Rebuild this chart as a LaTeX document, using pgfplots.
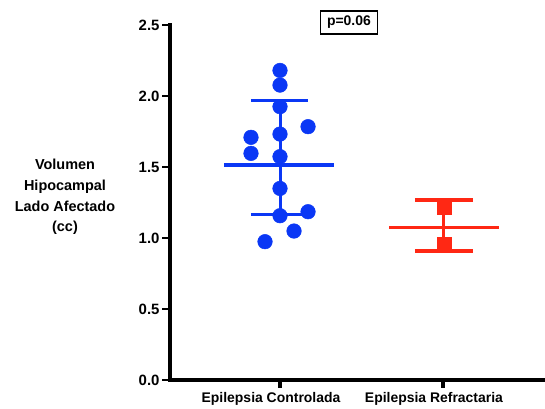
\documentclass[border=0pt]{standalone}
\usepackage{fontspec}
\setmainfont{Liberation Sans}
\usepackage{pgfplots}
\pgfplotsset{compat=1.18}
\definecolor{pblue}{RGB}{10,55,245}
\definecolor{pred}{RGB}{255,40,20}
\begin{document}
\begin{tikzpicture}
\useasboundingbox (-170bp,-29bp) rectangle (375bp,380bp);
\begin{axis}[
  at={(0,0)}, anchor=south west,
  scale only axis, width=375bp, height=355bp,
  xmin=0.325, xmax=2.626, ymin=0, ymax=2.5,
  axis x line=bottom, axis y line=left,
  axis line style={line width=4bp,-, line cap=rect},
  tick align=outside, major tick length=8bp,
  xtick={1,2}, xticklabels={Epilepsia Controlada, Epilepsia Refractaria},
  ytick={0,0.5,1,1.5,2,2.5},
  /pgf/number format/assume math mode=true,
  yticklabel={\pgfmathprintnumber[fixed,fixed zerofill,precision=1]{\tick}},
  yticklabel style={font=\bfseries\fontsize{15}{15}\selectfont, xshift=1bp},
  xticklabel style={font=\bfseries\fontsize{14}{14}\selectfont, xshift=-9bp, yshift=-1bp},
  ylabel={Volumen\\Hipocampal\\Lado Afectado\\(cc)},
  every axis y label/.style={at={(axis description cs:-0.28,0.516)}, anchor=center,
     font=\bfseries\fontsize{14.5}{21}\selectfont, align=center},
  clip=false,
]
% thick tick marks over the axis ticks
\pgfplotsinvokeforeach{0,0.5,1,1.5,2,2.5}{
  \draw[line width=2.6bp, black] (axis cs:0.325,#1) -- ([xshift=-8bp]axis cs:0.325,#1);
}
\pgfplotsinvokeforeach{1,2}{
  \draw[line width=4bp, black] (axis cs:#1,0) -- ([yshift=-8bp]axis cs:#1,0);
}
% blue group
\addplot[pblue, line width=3.3bp] coordinates {(0.656,1.514) (1.331,1.514)};
\addplot[pblue, line width=3.3bp] coordinates {(0.822,1.967) (1.172,1.967)};
\addplot[pblue, line width=3.3bp] coordinates {(0.822,1.166) (1.172,1.166)};
\addplot[pblue, line width=3bp] coordinates {(1,1.166) (1,1.967)};
\addplot[only marks, mark=*, mark size=7.3bp, pblue, mark options={fill=pblue, draw=pblue, line width=0.5bp}] coordinates {
(1,2.18) (1,2.077) (1,1.925) (1.172,1.784) (0.822,1.709) (1,1.732)
(0.822,1.596) (1,1.573) (1,1.349) (1.172,1.185) (1,1.157) (1.086,1.049) (0.908,0.974)};
% red group
\addplot[pred, line width=3.3bp] coordinates {(1.669,1.073) (2.343,1.073)};
\addplot[pred, line width=3.3bp] coordinates {(1.828,1.268) (2.184,1.268)};
\addplot[pred, line width=3.3bp] coordinates {(1.828,0.908) (2.184,0.908)};
\addplot[pred, line width=3bp] coordinates {(2.006,0.908) (2.006,1.268)};
\addplot[only marks, mark=square*, mark size=6.8bp, pred, mark options={fill=pred, draw=pred, line width=0.5bp}] coordinates {
(2.006,1.213) (2.006,0.956)};
\node[draw, line width=1.3bp, minimum width=57bp, minimum height=23bp, inner sep=0pt,
  font=\bfseries\fontsize{14}{14}\selectfont] at (axis cs:1.423,2.518) {p=0.06};
\end{axis}
\end{tikzpicture}
\end{document}
